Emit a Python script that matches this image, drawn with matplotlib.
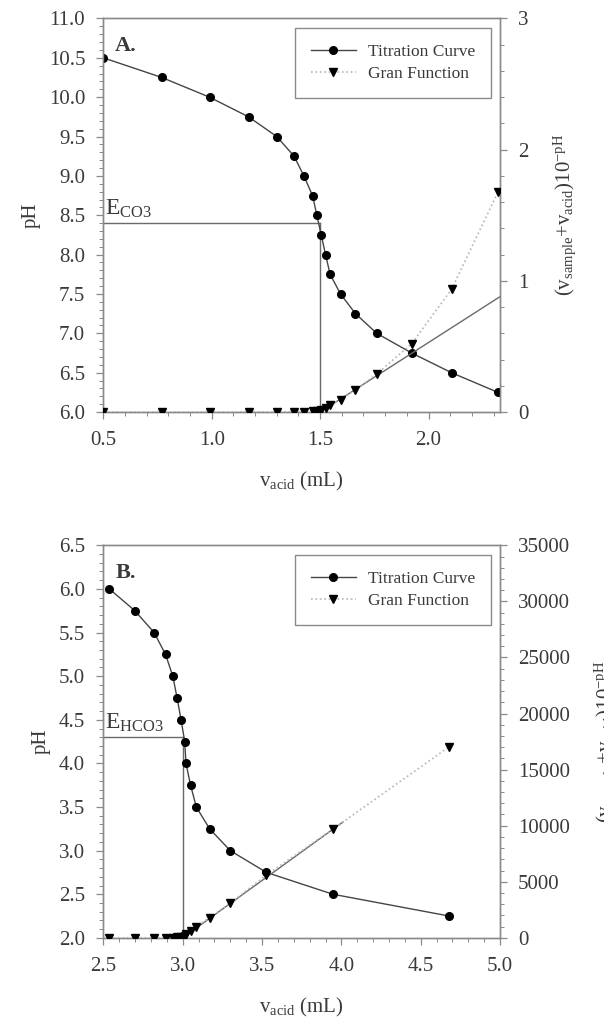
import matplotlib
matplotlib.use("Agg")
import matplotlib.pyplot as plt
from matplotlib.ticker import MultipleLocator, FormatStrFormatter
from matplotlib.lines import Line2D

plt.rcParams["font.family"] = ["Liberation Serif", "DejaVu Serif"]
plt.rcParams["mathtext.fontset"] = "custom"
plt.rcParams["mathtext.rm"] = "Liberation Serif"
plt.rcParams["mathtext.it"] = "Liberation Serif:italic"
plt.rcParams["mathtext.bf"] = "Liberation Serif:bold"

# Panel A: carbonate end point
v_acid_a = [0.50, 0.77, 0.99, 1.17, 1.30, 1.38, 1.425, 1.465, 1.485, 1.505,
            1.525, 1.546, 1.594, 1.663, 1.761, 1.922, 2.106, 2.32]
ph_a = [10.5, 10.25, 10.0, 9.75, 9.5, 9.25, 9.0, 8.75, 8.5, 8.25,
        8.0, 7.75, 7.5, 7.25, 7.0, 6.75, 6.5, 6.25]
gran_a = [0.0, 0.0, 0.0, 0.001, 0.001, 0.002, 0.003, 0.005, 0.009, 0.017,
          0.03, 0.053, 0.095, 0.168, 0.29, 0.52, 0.935, 1.676]
fit_a_x = [1.50, 2.33]
fit_a_y = [0.0, 0.88]
end_a_v = 1.50
end_a_ph = 8.4

# Panel B: bicarbonate end point
v_acid_b = [2.538, 2.699, 2.82, 2.892, 2.938, 2.965, 2.99, 3.013, 3.021, 3.05,
            3.086, 3.17, 3.30, 3.528, 3.947, 4.68]
ph_b = [6.0, 5.75, 5.5, 5.25, 5.0, 4.75, 4.5, 4.25, 4.0, 3.75,
        3.5, 3.25, 3.0, 2.75, 2.5, 2.25]
gran_b = [3, 6, 10, 19, 33, 60, 105, 190, 330, 580,
          1000, 1800, 3100, 5600, 9700, 17050]
fit_b_x = [3.0, 4.01]
fit_b_y = [0, 10330]
end_b_v = 3.0
end_b_ph = 4.3

spine_c = "#8a8a8a"
text_c = "#3a3a3a"
curve_c = "#454545"
gran_c = "#b5b5b5"
fit_c = "#6a6a6a"

fig = plt.figure(figsize=(6.04, 10.25), dpi=100)
ax_a = fig.add_axes([0.171, 0.598, 0.657, 0.384])
ax_b = fig.add_axes([0.171, 0.085, 0.657, 0.383])


def draw_panel(ax, v, ph, gran, fit_x, fit_y, end_v, end_ph, xlim, ylim, y2lim,
               xmaj, y2maj, y2min, y2fmt, tag, elabel):
    ax2 = ax.twinx()
    ax.set_xlim(*xlim)
    ax.set_ylim(*ylim)
    ax2.set_ylim(*y2lim)

    # end point guide lines
    ax.plot([xlim[0], end_v], [end_ph, end_ph], color=fit_c, lw=1.0)
    ax.plot([end_v, end_v], [ylim[0], end_ph], color=fit_c, lw=1.0)

    ax.plot(v, ph, "-", color=curve_c, lw=1.0, marker="o", ms=5.5,
            mfc="black", mec="black", zorder=4)
    ax2.plot(v, gran, ":", color=gran_c, lw=1.2, marker="v", ms=5.5,
             mfc="black", mec="black", zorder=3)
    ax2.plot(fit_x, fit_y, "-", color=fit_c, lw=1.0, zorder=2)

    ax.text(0.03, 0.955, tag, transform=ax.transAxes, fontsize=16,
            fontweight="bold", color=text_c, va="top", ha="left")
    ax.text(xlim[0] + 0.005 * (xlim[1] - xlim[0]), end_ph + 0.04 * (ylim[1] - ylim[0]) / 5,
            elabel, fontsize=17, color=text_c, va="bottom", ha="left")

    ax.xaxis.set_major_locator(MultipleLocator(xmaj))
    ax.xaxis.set_minor_locator(MultipleLocator(0.1))
    ax.xaxis.set_major_formatter(FormatStrFormatter("%.1f"))
    ax.yaxis.set_major_locator(MultipleLocator(0.5))
    ax.yaxis.set_minor_locator(MultipleLocator(0.1))
    ax.yaxis.set_major_formatter(FormatStrFormatter("%.1f"))
    ax2.yaxis.set_major_locator(MultipleLocator(y2maj))
    ax2.yaxis.set_minor_locator(MultipleLocator(y2min))
    ax2.yaxis.set_major_formatter(FormatStrFormatter(y2fmt))

    for a in (ax, ax2):
        for s in a.spines.values():
            s.set_color(spine_c)
            s.set_linewidth(1.0)
        a.tick_params(which="major", direction="out", length=5, width=0.9,
                      color=spine_c, labelcolor=text_c, labelsize=15)
        a.tick_params(which="minor", direction="out", length=3, width=0.7,
                      color=spine_c)
    ax.tick_params(axis="x", which="major", pad=9)
    ax.tick_params(axis="y", which="major", pad=8)
    ax2.tick_params(axis="y", which="major", pad=8)

    ax.set_xlabel(r"v$_{\mathrm{acid}}$ (mL)", fontsize=15, color=text_c, labelpad=14)
    ax.set_ylabel("pH", fontsize=15, color=text_c, labelpad=6)
    ax2.set_ylabel(r"(v$_{\mathrm{sample}}$+v$_{\mathrm{acid}}$)10$^{\mathrm{-pH}}$",
                   fontsize=15, color=text_c, labelpad=16)

    handles = [
        Line2D([], [], color=curve_c, lw=1.0, marker="o", ms=5.5, mfc="black", mec="black"),
        Line2D([], [], color=gran_c, lw=1.2, ls=":", marker="v", ms=5.5, mfc="black", mec="black"),
    ]
    leg = ax2.legend(handles, ["Titration Curve", "Gran Function"], loc="upper right",
                     bbox_to_anchor=(0.977, 0.975), borderaxespad=0, fontsize=12.5,
                     fancybox=False, framealpha=1, edgecolor=spine_c,
                     handlelength=2.6, handletextpad=0.7, borderpad=0.9,
                     labelspacing=0.35)
    leg.get_frame().set_linewidth(1.0)
    for t in leg.get_texts():
        t.set_color(text_c)
    return ax2


draw_panel(ax_a, v_acid_a, ph_a, gran_a, fit_a_x, fit_a_y, end_a_v, end_a_ph,
           (0.5, 2.33), (6.0, 11.0), (0, 3), 0.5, 1, 0.2, "%d", "A.",
           r"E$_{\mathrm{CO3}}$")
draw_panel(ax_b, v_acid_b, ph_b, gran_b, fit_b_x, fit_b_y, end_b_v, end_b_ph,
           (2.5, 5.0), (2.0, 6.5), (0, 35000), 0.5, 5000, 1000, "%d", "B.",
           r"E$_{\mathrm{HCO3}}$")

fig.savefig("out.png", dpi=100)
